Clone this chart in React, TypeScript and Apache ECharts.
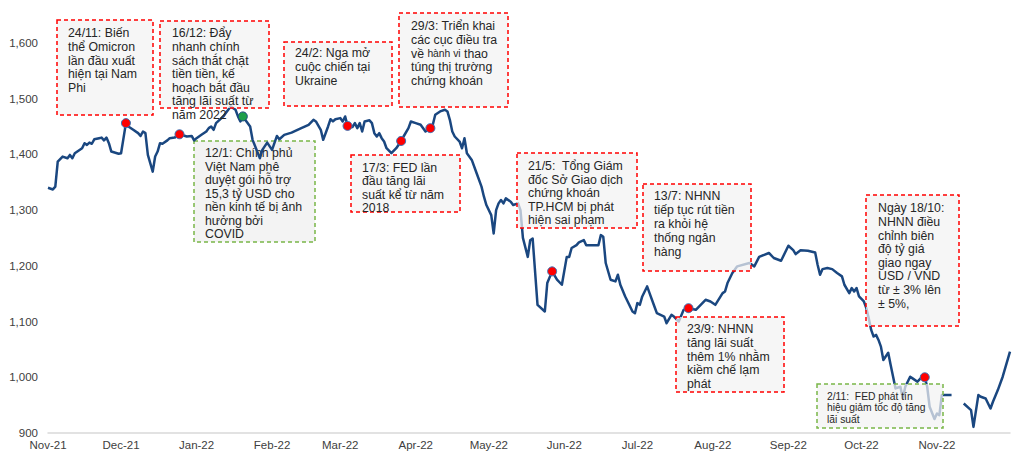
import React, { useEffect, useRef } from "react";
import * as echarts from "echarts";

// ---- Data ----
const dates: string[] = [
  "2021-11-01","2021-11-03","2021-11-04","2021-11-05","2021-11-07","2021-11-09","2021-11-10","2021-11-11","2021-11-12","2021-11-15",
  "2021-11-16","2021-11-17","2021-11-18","2021-11-19","2021-11-20","2021-11-22","2021-11-23","2021-11-24","2021-11-25","2021-11-26",
  "2021-11-27","2021-11-30","2021-12-01","2021-12-03","2021-12-04","2021-12-06","2021-12-08","2021-12-09","2021-12-10","2021-12-11",
  "2021-12-12","2021-12-14","2021-12-15","2021-12-16","2021-12-17","2021-12-18","2021-12-20","2021-12-21","2021-12-23","2021-12-25",
  "2021-12-28","2021-12-30","2021-12-31","2022-01-01","2022-01-03","2022-01-05","2022-01-06","2022-01-07","2022-01-08","2022-01-09",
  "2022-01-12","2022-01-13","2022-01-15","2022-01-17","2022-01-18","2022-01-19","2022-01-20","2022-01-23","2022-01-24","2022-01-27",
  "2022-01-28","2022-01-30","2022-02-01","2022-02-03","2022-02-04","2022-02-06","2022-02-09","2022-02-13","2022-02-16","2022-02-18",
  "2022-02-19","2022-02-21","2022-02-22","2022-02-24","2022-02-25","2022-02-26","2022-02-27","2022-03-01","2022-03-02","2022-03-03",
  "2022-03-04","2022-03-06","2022-03-07","2022-03-08","2022-03-09","2022-03-10","2022-03-11","2022-03-13","2022-03-14","2022-03-15",
  "2022-03-16","2022-03-17","2022-03-18","2022-03-19","2022-03-20","2022-03-22","2022-03-24","2022-03-26","2022-03-27","2022-03-29",
  "2022-03-30","2022-04-01","2022-04-03","2022-04-05","2022-04-07","2022-04-08","2022-04-09","2022-04-11","2022-04-13","2022-04-14",
  "2022-04-15","2022-04-16","2022-04-17","2022-04-19","2022-04-20","2022-04-21","2022-04-22","2022-04-24","2022-04-26","2022-04-28",
  "2022-04-29","2022-04-30","2022-05-02","2022-05-03","2022-05-04","2022-05-05","2022-05-06","2022-05-07","2022-05-08","2022-05-10",
  "2022-05-11","2022-05-13","2022-05-14","2022-05-15","2022-05-17","2022-05-18","2022-05-19","2022-05-21","2022-05-24","2022-05-25",
  "2022-05-27","2022-05-29","2022-05-31","2022-06-02","2022-06-03","2022-06-04","2022-06-06","2022-06-07","2022-06-09","2022-06-10",
  "2022-06-11","2022-06-15","2022-06-16","2022-06-17","2022-06-18","2022-06-20","2022-06-22","2022-06-23","2022-06-24","2022-06-26",
  "2022-06-29","2022-06-30","2022-07-01","2022-07-02","2022-07-03","2022-07-05","2022-07-06","2022-07-08","2022-07-09","2022-07-12",
  "2022-07-13","2022-07-15","2022-07-16","2022-07-18","2022-07-20","2022-07-22","2022-07-25","2022-07-27","2022-07-29","2022-07-31",
  "2022-08-02","2022-08-05","2022-08-06","2022-08-07","2022-08-09","2022-08-11","2022-08-16","2022-08-18","2022-08-20","2022-08-24",
  "2022-08-26","2022-08-29","2022-09-01","2022-09-03","2022-09-04","2022-09-06","2022-09-09","2022-09-12","2022-09-13","2022-09-14",
  "2022-09-15","2022-09-17","2022-09-19","2022-09-21","2022-09-23","2022-09-24","2022-09-26","2022-09-27","2022-09-28","2022-09-29",
  "2022-09-30","2022-10-02","2022-10-03","2022-10-04","2022-10-05","2022-10-06","2022-10-07","2022-10-08","2022-10-09","2022-10-10",
  "2022-10-12","2022-10-13","2022-10-14","2022-10-15","2022-10-17","2022-10-18","2022-10-19","2022-10-21","2022-10-22","2022-10-24",
  "2022-10-26","2022-10-27","2022-10-28","2022-10-29","2022-10-31","2022-11-01","2022-11-02","2022-11-03","2022-11-04","2022-11-07",
  "2022-11-10","2022-11-12","2022-11-15","2022-11-16","2022-11-18","2022-11-19","2022-11-21","2022-11-23","2022-11-24","2022-11-26",
  "2022-11-28","2022-12-01",
];

const indexValues: (number | null)[] = [
  1340,1337,1342,1387,1396,1393,1399,1393,1402,1411,
  1420,1417,1421,1419,1427,1429,1430,1425,1430,1420,
  1405,1401,1402,1456,1450,1444,1438,1433,1441,1438,
  1399,1369,1396,1405,1420,1419,1425,1429,1430,1436,
  1432,1433,1425,1429,1435,1441,1447,1450,1444,1456,
  1468,1474,1486,1480,1468,1459,1468,1450,1426,1393,
  1408,1421,1408,1433,1427,1435,1439,1447,1453,1462,
  1459,1444,1426,1450,1463,1459,1463,1465,1459,1468,
  1451,1449,1456,1447,1456,1441,1459,1461,1456,1438,
  1432,1438,1429,1423,1411,1402,1411,1424,1432,1447,
  1459,1456,1453,1441,1447,1453,1471,1477,1480,1477,
  1462,1441,1432,1423,1411,1429,1402,1390,1366,1342,
  1324,1309,1291,1258,1300,1312,1318,1312,1321,1315,
  1309,1312,1300,1250,1216,1246,1249,1130,1118,1169,
  1190,1175,1166,1216,1216,1232,1237,1242,1246,1237,
  1237,1237,1255,1252,1205,1175,1172,1184,1166,1145,
  1118,1115,1133,1130,1145,1163,1151,1127,1115,1109,
  1097,1112,1109,1100,1121,1124,1121,1130,1139,1136,
  1130,1151,1154,1169,1187,1199,1205,1199,1216,1223,
  1214,1209,1236,1228,1221,1228,1227,1224,1202,1184,
  1194,1196,1194,1187,1181,1166,1151,1160,1154,1160,
  1145,1136,1124,1106,1085,1073,1076,1067,1055,1031,
  1044,1022,1001,980,983,962,983,1001,998,992,
  1001,1000,983,947,925,935,932,968,968,968,
  null,953,941,911,968,965,962,944,956,977,
  1001,1046,
];

// Event markers (red = negative news, green = supportive news)
const redEventDates: string[] = ["2021-12-03","2021-12-25","2022-03-04","2022-03-26","2022-04-07","2022-05-27","2022-07-22","2022-10-27"];
const redEventValues: number[] = [1456,1436,1451,1424,1447,1190,1124,1000];
const greenEventDates: string[] = ["2022-01-20"];
const greenEventValues: number[] = [1468];

const yTicks: number[] = [900, 1000, 1100, 1200, 1300, 1400, 1500, 1600];
const monthNames: string[] = ["Jan","Feb","Mar","Apr","May","Jun","Jul","Aug","Sep","Oct","Nov","Dec"];

// Annotation texts
const annotationTexts: string[] = [
  "24/11: Biến\nthể Omicron\nlần đầu xuất\nhiện tại Nam\nPhi",
  "16/12: Đẩy\nnhanh chính\nsách thắt chặt\ntiền tiền, kế\nhoạch bắt đầu\ntăng lãi suất từ\nnăm 2022",
  "24/2: Nga mở\ncuộc chiến tại\nUkraine",
  "29/3: Triển khai\ncác cục điều tra\nvề {s|hành vi} thao\ntúng thị trường\nchứng khoán",
  "17/3: FED lần\nđầu tăng lãi\nsuất kể từ năm\n2018",
  "12/1: Chính phủ\nViệt Nam phê\nduyệt gói hỗ trợ\n15,3 tỷ USD cho\nnền kinh tế bị ảnh\nhưởng bởi\nCOVID",
  "21/5:  Tổng Giám\nđốc Sở Giao dịch\nchứng khoán\nTP.HCM bị phát\nhiện sai phạm",
  "13/7: NHNN\ntiếp tục rút tiền\nra khỏi hệ\nthống ngân\nhàng",
  "23/9: NHNN\ntăng lãi suất\nthêm 1% nhằm\nkiềm chế lạm\nphát",
  "Ngày 18/10:\nNHNN điều\nchỉnh biên\nđộ tỷ giá\ngiao ngay\nUSD / VND\ntừ ± 3% lên\n± 5%,",
  "2/11:  FED phát tín\nhiệu giảm tốc độ tăng\nlãi suất",
];

const X_MIN = "2021-11-01";
const X_MAX = "2022-12-01";
const FONT = "'Liberation Sans', Arial, sans-serif";
const RED = "#FF0000";
const GREEN = "#7AB648";

export default function App() {
  const ref = useRef<HTMLDivElement>(null);

  useEffect(() => {
    if (!ref.current) return;
    const chart = echarts.init(ref.current, undefined, { renderer: "svg" });
    const maxTs = new Date(2022, 11, 1).getTime();
    const DAY = 86400000;

    // layout of annotation boxes: [x, y, w, h, textX, textY, fontSize, lineHeight, color, onTop]
    const layout: [number, number, number, number, number, number, number, number, string, boolean][] = [
      [57, 20, 96, 95, 68, 26.5, 12.3, 13.6, RED, true],
      [160, 21, 109, 87, 172, 26.5, 12.3, 13.6, RED, true],
      [284, 42, 108, 64, 295, 46.5, 12.3, 13.8, RED, true],
      [399, 13, 109, 94, 411, 19.5, 12.3, 13.7, RED, true],
      [351, 155, 109, 57, 362, 161, 12.3, 13.5, RED, true],
      [194, 141, 121, 101, 205, 146.5, 12.3, 13.5, GREEN, false],
      [517, 153, 120, 75, 528, 159.5, 12.3, 13.5, RED, true],
      [643, 184, 108, 87, 654, 188.5, 12.3, 14, RED, true],
      [676, 317, 108, 75, 687, 322.5, 12.3, 13.7, RED, true],
      [866, 195, 93, 131, 878, 201.5, 12.3, 13.6, RED, true],
      [817, 384, 126, 44, 827, 390.5, 10.3, 11.5, GREEN, true],
    ];

    const graphics: any[] = [];
    layout.forEach((l, i) => {
      const [x, y, w, h, tx, ty, fs, lh, color, onTop] = l;
      graphics.push({
        type: "rect",
        z: onTop ? 10 : 1,
        shape: { x, y, width: w, height: h },
        style: {
          fill: onTop ? "rgba(242,242,242,0.72)" : "rgba(242,242,242,0.9)",
          stroke: color,
          lineWidth: 1.5,
          lineDash: [4, 3],
        },
        silent: true,
      });
      graphics.push({
        type: "text",
        z: onTop ? 11 : 1,
        x: tx,
        y: ty,
        style: {
          text: annotationTexts[i],
          fontSize: fs,
          lineHeight: lh,
          fontFamily: FONT,
          fill: "#262626",
          verticalAlign: "top",
          align: "left",
          rich: {
            s: { fontSize: fs - 2, fontFamily: FONT, fill: "#262626", lineHeight: lh },
          },
        },
        silent: true,
      });
    });

    const option: any = {
      animation: false,
      backgroundColor: "#ffffff",
      grid: { left: 48, right: 8, top: 15, bottom: 22, containLabel: false },
      xAxis: {
        type: "time",
        min: X_MIN,
        max: X_MAX,
        splitNumber: 13,
        minInterval: 28 * DAY,
        maxInterval: 31 * DAY,
        axisLine: { show: true, lineStyle: { color: "#D9D9D9", width: 1.5 } },
        axisTick: { show: false },
        splitLine: { show: false },
        axisLabel: {
          color: "#404040",
          fontSize: 11.5,
          fontFamily: FONT,
          margin: 6,
          hideOverlap: false,
          showMaxLabel: false,
          formatter: (val: number) => {
            const d = new Date(val);
            if (d.getDate() !== 1 || val >= maxTs) return "";
            return monthNames[d.getMonth()] + "-" + String(d.getFullYear()).slice(2);
          },
        },
      },
      yAxis: {
        type: "value",
        min: yTicks[0],
        max: 1650,
        interval: 100,
        axisLine: { show: false },
        axisTick: { show: false },
        splitLine: { show: false },
        axisLabel: {
          color: "#404040",
          fontSize: 11.5,
          fontFamily: FONT,
          margin: 10,
          showMaxLabel: false,
          formatter: (v: number) => (yTicks.includes(v) ? v.toLocaleString("en-US") : ""),
        },
      },
      series: [
        {
          type: "line",
          z: 2,
          data: dates.map((d, i) => [d, indexValues[i]]),
          showSymbol: false,
          connectNulls: false,
          lineStyle: { color: "#1A4780", width: 2.5, join: "round" },
          itemStyle: { color: "#1A4780" },
        },
        {
          type: "scatter",
          z: 5,
          symbol: "circle",
          symbolSize: 9,
          data: redEventDates.map((d, i) => [d, redEventValues[i]]),
          itemStyle: { color: RED, borderColor: "#3A74B8", borderWidth: 1, opacity: 1 },
        },
        {
          type: "scatter",
          z: 5,
          symbol: "circle",
          symbolSize: 9,
          data: greenEventDates.map((d, i) => [d, greenEventValues[i]]),
          itemStyle: { color: "#1E9E4A", borderColor: "#1A4780", borderWidth: 1, opacity: 1 },
        },
      ],
      graphic: graphics,
    };

    chart.setOption(option);
    return () => chart.dispose();
  }, []);

  return (
    <div
      ref={ref}
      style={{ position: "fixed", left: 0, top: 0, width: 1018, height: 455, background: "#fff" }}
    />
  );
}
